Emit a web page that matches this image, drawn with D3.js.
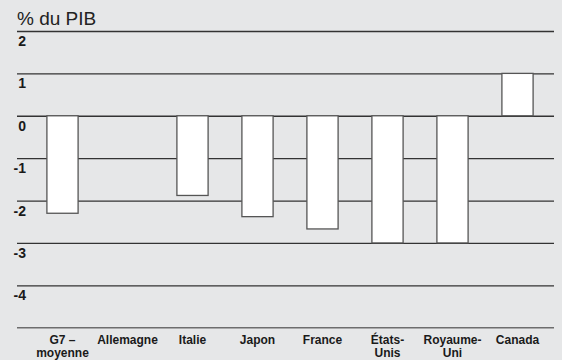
<!DOCTYPE html>
<html>
<head>
<meta charset="utf-8">
<script src="https://cdn.jsdelivr.net/npm/d3@7"></script>
<style>
  body { margin: 0; background: #e6e7e8; }
  svg { display: block; font-family: "Liberation Sans", Arial, sans-serif; }
</style>
</head>
<body>
<div id="chart"></div>
<script>
// categories and values (% du PIB)
var countries = ["G7 –\nmoyenne", "Allemagne", "Italie", "Japon", "France", "États-\nUnis", "Royaume-\nUni", "Canada"];
var values = [-2.3, 0, -1.88, -2.38, -2.67, -3.0, -3.0, 1.0];
var yTicks = [2, 1, 0, -1, -2, -3, -4];
var title = "% du PIB";

var data = countries.map((c, i) => ({ name: c, value: values[i] }));

var width = 562, height = 360;
var svg = d3.select("#chart").append("svg")
  .attr("width", width)
  .attr("height", height);

svg.append("rect").attr("width", width).attr("height", height).attr("fill", "#e6e7e8");

var left = 17, right = 554;

// scales
var x = d3.scaleBand()
  .domain(countries)
  .range([30, 550])
  .paddingInner(0.52)
  .paddingOuter(0.26);

var y = d3.scaleLinear()
  .domain([-5, 2])
  .range([327.7, 31]);

// title
svg.append("text")
  .attr("x", left)
  .attr("y", 25)
  .attr("font-size", 19)
  .attr("fill", "#222")
  .text(title);

// gridlines + labels
var yAxis = d3.axisRight(y)
  .tickValues(yTicks)
  .tickSize(right - left)
  .tickFormat(d => String(d));

var gy = svg.append("g")
  .attr("transform", `translate(${left},0)`)
  .call(yAxis);
gy.select(".domain").remove();
gy.selectAll(".tick line").attr("stroke", "#333").attr("stroke-width", 1.3);
gy.selectAll(".tick text")
  .attr("x", 9)
  .attr("dy", 14.5)
  .attr("text-anchor", "end")
  .attr("font-size", 14)
  .attr("font-weight", "bold")
  .attr("fill", "#1a1a1a");

// bottom line
svg.append("line")
  .attr("x1", left).attr("x2", right)
  .attr("y1", y(-5)).attr("y2", y(-5))
  .attr("stroke", "#6d6d6d")
  .attr("stroke-width", 1.6);

// bars
svg.append("g").selectAll("rect")
  .data(data)
  .enter()
  .append("rect")
  .attr("x", d => x(d.name))
  .attr("y", d => y(Math.max(0, d.value)))
  .attr("width", x.bandwidth())
  .attr("height", d => Math.abs(y(d.value) - y(0)))
  .attr("fill", "#fff")
  .attr("stroke", d => d.value === 0 ? "none" : "#555")
  .attr("stroke-width", 1.3);

// category labels
var xAxis = d3.axisBottom(x).tickSize(0).tickFormat("");
var gx = svg.append("g")
  .attr("transform", `translate(0,${y(-5)})`)
  .call(xAxis);
gx.select(".domain").remove();

gx.selectAll(".tick").append("text")
  .attr("text-anchor", "middle")
  .attr("font-size", 12)
  .attr("font-weight", "bold")
  .attr("fill", "#1a1a1a")
  .each(function(d) {
    var lines = d.split("\n");
    var t = d3.select(this);
    lines.forEach((l, i) => {
      t.append("tspan").attr("x", 0).attr("y", 16 + i * 13).text(l);
    });
  });
</script>
</body>
</html>
